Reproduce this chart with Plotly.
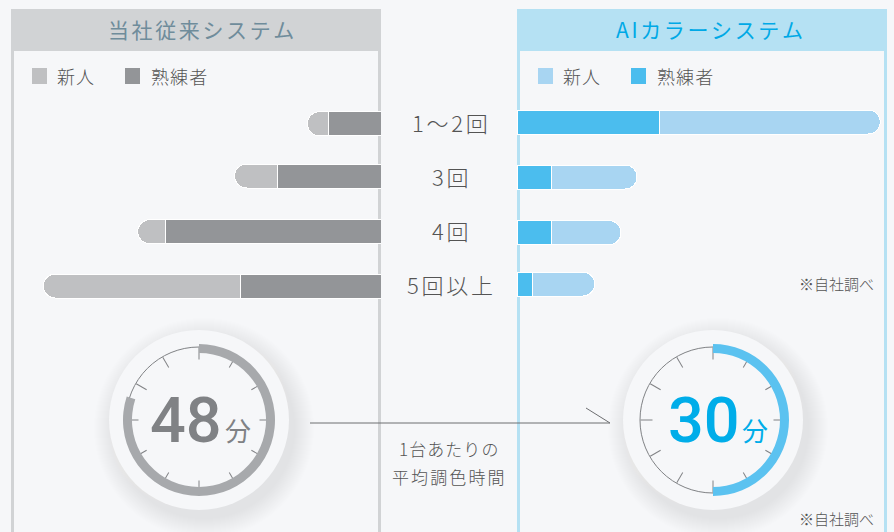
import plotly.graph_objects as go

# Data
rows = ["1〜2回", "3回", "4回", "5回以上"]
series = ["新人", "熟練者"]
conv_new = [2.6, 5.3, 3.5, 24.6]
conv_exp = [6.6, 13.0, 26.9, 17.6]
ai_new = [27.6, 10.7, 8.7, 7.8]
ai_exp = [17.8, 4.3, 4.3, 1.9]
conv_minutes = 48
ai_minutes = 30
hour_minutes = 60

W, H = 894, 532
FONT = "Noto Sans CJK JP"
BG = "#f6f7f9"
TXT = "#545454"
SCALE = 8.0            # pixels per unit
ROW0, STEP, BAR = 124, 54, 24
conv_nudge = [-0.3, -2.0, -0.3, 0.0]
ai_nudge = [-2.0, -1.0, 0.7, -2.0]
HAIR = "\u200a"


def px(x):
    return x / W


def py(y):
    return 1 - y / H


def spaced(s, n=1):
    return (HAIR * n).join(s)


fig = go.Figure()
shapes, ann = [], []


def rect(x0, y0, x1, y1, color):
    shapes.append(dict(type="rect", xref="paper", yref="paper", x0=px(x0), x1=px(x1), y0=py(y0), y1=py(y1),
                       fillcolor=color, line_width=0, layer="below"))


def text(x, y, s, size, color=TXT, anchor="center", family=FONT, weight=300):
    ann.append(dict(xref="paper", yref="paper", x=px(x), y=py(y), text=s, showarrow=False, xanchor=anchor,
                    yanchor="middle", font=dict(family=family, size=size, color=color, weight=weight)))


def panel(x0, x1, head, title, tcolor, new_c, exp_c, title_x):
    rect(x0, 9, x1, H, head)
    rect(x0 + 3, 51, x1 - 3, H, BG)
    text(title_x, 29.5, spaced(title, 2), 21, tcolor, weight=400)
    lx = x0 + 21
    rect(lx, 68, lx + 15, 84, new_c)
    text(lx + 22.5, 75.5, spaced(series[0]), 18, anchor="left")
    rect(lx + 93, 68, lx + 108, 84, exp_c)
    text(lx + 116.5, 75.5, spaced(series[1]), 18, anchor="left")


panel(11, 381, "#d1d3d5", "当社従来システム", "#6f8c9b", "#bfc0c2", "#939598", 201)
panel(517, 887, "#b5e1f3", "AIカラーシステム", "#00a9e6", "#a8d5f2", "#4bbdee", 709.5)


def bars(x_vals, nudge, color, name, axis):
    fig.add_trace(go.Bar(y=rows, x=x_vals, name=name, orientation="h", xaxis=axis, yaxis="y",
                         width=BAR / STEP, offset=[(n - BAR / 2) / STEP for n in nudge],
                         marker=dict(color=color, line=dict(color="#ffffff", width=1)),
                         showlegend=False, hoverinfo="skip"))


bars(conv_exp, conv_nudge, "#939598", series[1], "x")
bars(conv_new, conv_nudge, "#bfc0c2", series[0], "x")
bars(ai_exp, ai_nudge, "#4bbdee", series[1], "x2")
bars(ai_new, ai_nudge, "#a8d5f2", series[0], "x2")

for r in rows:
    ann.append(dict(xref="paper", yref="y", x=px(450), y=r, text=spaced(r, 2), showarrow=False, xanchor="center",
                    yanchor="middle", yshift=2, font=dict(family=FONT, size=22, color=TXT, weight=300)))


def gauge(cx, cy, minutes, color, num, numc, num_x, unit_x, pid):
    # soft shadow and highlight
    for i in range(20):
        r = 110 - i
        for off, c, op in (((5, 8), "#44587a", 0.006), ((-4, -5), "#ffffff", 0.04)):
            shapes.append(dict(type="circle", xref="paper", yref="paper", layer="below",
                               x0=px(cx + off[0] - r), x1=px(cx + off[0] + r),
                               y0=py(cy + off[1] - r), y1=py(cy + off[1] + r),
                               fillcolor=c, opacity=op, line_width=0))
    shapes.append(dict(type="circle", xref="paper", yref="paper", layer="below",
                       x0=px(cx - 90), x1=px(cx + 90), y0=py(cy - 90), y1=py(cy + 90),
                       fillcolor="#f6f7f9", line_width=0))
    fig.add_trace(go.Pie(values=[minutes, hour_minutes - minutes], sort=False, direction="clockwise", rotation=0,
                         hole=67 / 76, textinfo="none", hoverinfo="skip", showlegend=False,
                         marker=dict(colors=[color, "rgba(0,0,0,0)"], line=dict(width=0)),
                         domain=dict(x=[px(cx - 76), px(cx + 76)], y=[py(cy + 76), py(cy - 76)])))
    fig.add_trace(go.Scatterpolar(r=[0], theta=[0], mode="markers", marker=dict(size=1, opacity=0),
                                  subplot=pid, showlegend=False, hoverinfo="skip"))
    fig.update_layout(**{pid: dict(
        domain=dict(x=[px(cx - 73), px(cx + 73)], y=[py(cy + 73), py(cy - 73)]),
        bgcolor="rgba(0,0,0,0)",
        radialaxis=dict(visible=False, range=[0, 1]),
        angularaxis=dict(direction="clockwise", rotation=90, dtick=30, ticks="inside", ticklen=12, tickwidth=1,
                         tickcolor="#808285", showticklabels=False, showgrid=False,
                         showline=True, linecolor="#808285", linewidth=1),
    )})
    text(num_x, cy, num, 63, numc, family="Roboto", weight=500)
    text(unit_x, cy + 9, "分", 26, numc, weight=400)


gauge(199, 420, conv_minutes, "#a7a9ac", str(conv_minutes), "#808285", 186, 238, "polar")
gauge(713, 420, ai_minutes, "#5bc2f0", str(ai_minutes), "#00ade9", 704, 755, "polar2")

# arrow between gauges
for x0, y0, x1, y1 in ((310, 423, 610, 423), (586, 408, 610, 423)):
    shapes.append(dict(type="line", xref="paper", yref="paper", x0=px(x0), x1=px(x1), y0=py(y0), y1=py(y1),
                       line=dict(color="#6d6e71", width=1)))

text(448, 448.5, spaced("1台あたりの"), 17)
text(448, 476.5, spaced("平均調色時間", 2), 17)
text(876, 283, "※自社調べ", 15, anchor="right")
text(876, 518, "※自社調べ", 15, anchor="right")

fig.update_layout(
    width=W, height=H, margin=dict(l=0, r=0, t=0, b=0), autosize=False,
    paper_bgcolor=BG, plot_bgcolor="rgba(0,0,0,0)",
    barmode="stack", barcornerradius=12, shapes=shapes, annotations=ann,
    xaxis=dict(domain=[0, px(381)], range=[381 / SCALE, 0], visible=False, fixedrange=True),
    xaxis2=dict(domain=[px(517), 1], range=[0, (W - 517) / SCALE], visible=False, fixedrange=True, anchor="y"),
    yaxis=dict(type="category", categoryorder="array", categoryarray=rows, visible=False, fixedrange=True,
               domain=[0, 1], range=[(H - ROW0) / STEP, -ROW0 / STEP]),
)
fig.write_html("out.html", config=dict(displayModeBar=False),
               post_script="document.body.style.margin='0';document.body.style.overflow='hidden';document.body.style.background='#f6f7f9';")
